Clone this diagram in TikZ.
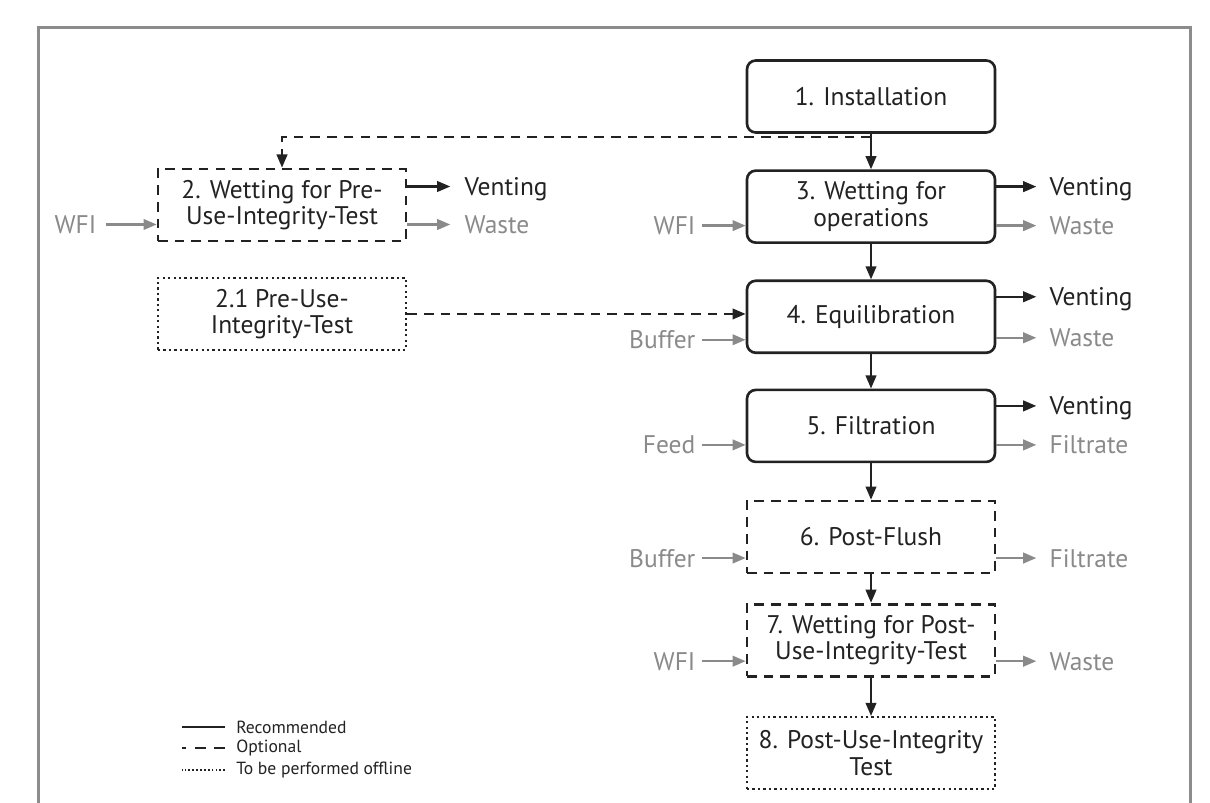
\documentclass[tikz,border=0pt]{standalone}
\usepackage{fontspec}
\setmainfont{PT Sans}
\usetikzlibrary{arrows.meta, positioning}
\definecolor{ink}{HTML}{222222}
\definecolor{lgray}{HTML}{8A8A8A}
\definecolor{framegray}{HTML}{8C8C8C}
\newcommand{\stagefont}{\fontsize{14.5pt}{15pt}\selectfont}
\newcommand{\legendfont}{\fontsize{10pt}{11pt}\selectfont}
\tikzset{
    stage/.style={
        rectangle,
        draw=ink,
        line width=1.5pt,
        rounded corners=5pt,
        minimum width=4.96cm,
        minimum height=1.44cm,
        align=center,
        text=ink,
        font=\stagefont
    },
    optstage/.style={
        stage,
        rounded corners=0pt,
        dash pattern=on 5.5pt off 4pt
    },
    offstage/.style={
        stage,
        rounded corners=0pt,
        line width=1.3pt,
        dash pattern=on 1.3pt off 1.8pt
    },
    outlbl/.style={
        inner sep=0pt,
        text height=10.2pt,
        text depth=0pt,
        text=ink,
        font=\stagefont
    },
    graylbl/.style={
        outlbl,
        text=lgray
    },
    flow/.style={
        draw=ink,
        line width=1.3pt,
        -{Triangle[length=7.5pt, width=6pt]}
    },
    grayflow/.style={
        flow,
        draw=lgray
    },
    optflow/.style={
        flow,
        dash pattern=on 5.5pt off 4pt
    },
    legendline/.style={
        draw=ink,
        line width=1pt
    },
    legendtxt/.style={
        inner sep=0pt,
        text=ink,
        font=\legendfont
    }
}

\begin{document}
\begin{tikzpicture}
\useasboundingbox (0,0) rectangle (24.2,-16.06);

% frame
\draw[framegray, line width=0.06cm] (0.76,-16.06) |- (23.8,-0.55) -- (23.8,-16.06);

% main column
\node[stage] (s1) at (17.42,-1.93) {1. Installation};
\node[stage, below=0.71cm of s1] (s3) {3. Wetting for\\operations};
\node[stage, below=0.71cm of s3] (s4) {4. Equilibration};
\node[stage, below=0.69cm of s4] (s5) {5. Filtration};
\node[optstage, below=0.73cm of s5] (s6) {6. Post-Flush};
\node[optstage, below=0.57cm of s6] (s7) {7. Wetting for Post-\\Use-Integrity-Test};
\node[offstage, below=0.77cm of s7] (s8) {8. Post-Use-Integrity\\Test};

\draw[flow] (s1) -- (s3);
\draw[flow] (s3) -- (s4);
\draw[flow] (s4) -- (s5);
\draw[flow] (s5) -- (s6);
\draw[flow] (s6) -- (s7);
\draw[flow] (s7) -- (s8);

% pre-use branch
\node[optstage] (s2) at (5.64,-4.10) {2. Wetting for Pre-\\Use-Integrity-Test};
\node[offstage, below=0.69cm of s2] (s21) {2.1 Pre-Use-\\Integrity-Test};

\coordinate (split) at ([yshift=-0.06cm]s1.south);
\draw[optflow] (split) -| (s2.north);
\draw[optflow] (s21.east) -- (s21.east -| s4.west);

% outputs on the right
\node[outlbl, anchor=west] (v2) at ([xshift=1.14cm, yshift=0.37cm]s2.east) {Venting};
\node[graylbl, anchor=west] (w2) at ([xshift=1.14cm, yshift=-0.39cm]s2.east) {Waste};
\node[outlbl, anchor=west] (v3) at ([xshift=1.06cm, yshift=0.40cm]s3.east) {Venting};
\node[graylbl, anchor=west] (w3) at ([xshift=1.06cm, yshift=-0.38cm]s3.east) {Waste};
\node[outlbl, anchor=west] (v4) at ([xshift=1.06cm, yshift=0.40cm]s4.east) {Venting};
\node[graylbl, anchor=west] (w4) at ([xshift=1.06cm, yshift=-0.42cm]s4.east) {Waste};
\node[outlbl, anchor=west] (v5) at ([xshift=1.06cm, yshift=0.40cm]s5.east) {Venting};
\node[graylbl, anchor=west] (f5) at ([xshift=1.06cm, yshift=-0.38cm]s5.east) {Filtrate};
\node[graylbl, anchor=west] (f6) at ([xshift=1.06cm, yshift=-0.42cm]s6.east) {Filtrate};
\node[graylbl, anchor=west] (w7) at ([xshift=1.06cm, yshift=-0.42cm]s7.east) {Waste};

\draw[flow, shorten >=0.28cm] (s2.east |- v2) -- (v2.west);
\draw[grayflow, shorten >=0.28cm] (s2.east |- w2) -- (w2.west);
\draw[flow, shorten >=0.26cm] (s3.east |- v3) -- (v3.west);
\draw[grayflow, shorten >=0.26cm] (s3.east |- w3) -- (w3.west);
\draw[flow, shorten >=0.26cm] (s4.east |- v4) -- (v4.west);
\draw[grayflow, shorten >=0.26cm] (s4.east |- w4) -- (w4.west);
\draw[flow, shorten >=0.26cm] (s5.east |- v5) -- (v5.west);
\draw[grayflow, shorten >=0.26cm] (s5.east |- f5) -- (f5.west);
\draw[grayflow, shorten >=0.26cm] (s6.east |- f6) -- (f6.west);
\draw[grayflow, shorten >=0.26cm] (s7.east |- w7) -- (w7.west);

% inputs on the left
\node[graylbl, anchor=east] (i2) at ([xshift=-1.2cm, yshift=-0.39cm]s2.west) {WFI};
\node[graylbl, anchor=east] (i3) at ([xshift=-1.0cm, yshift=-0.38cm]s3.west) {WFI};
\node[graylbl, anchor=east] (i4) at ([xshift=-1.0cm, yshift=-0.46cm]s4.west) {Buffer};
\node[graylbl, anchor=east] (i5) at ([xshift=-1.0cm, yshift=-0.38cm]s5.west) {Feed};
\node[graylbl, anchor=east] (i6) at ([xshift=-1.0cm, yshift=-0.42cm]s6.west) {Buffer};
\node[graylbl, anchor=east] (i7) at ([xshift=-1.0cm, yshift=-0.42cm]s7.west) {WFI};

\draw[grayflow, shorten <=0.18cm] (i2.east) -- (s2.west |- i2);
\draw[grayflow, shorten <=0.12cm] (i3.east) -- (s3.west |- i3);
\draw[grayflow, shorten <=0.12cm] (i4.east) -- (s4.west |- i4);
\draw[grayflow, shorten <=0.12cm] (i5.east) -- (s5.west |- i5);
\draw[grayflow, shorten <=0.12cm] (i6.east) -- (s6.west |- i6);
\draw[grayflow, shorten <=0.12cm] (i7.east) -- (s7.west |- i7);

% legend
\node[legendtxt, anchor=west] (lrec) at (4.72,-14.54) {Recommended};
\node[legendtxt, anchor=west] (lopt) at (4.72,-14.96) {Optional};
\node[legendtxt, anchor=west] (loff) at (4.72,-15.40) {To be performed offline};
\draw[legendline] ([xshift=-0.22cm]lrec.west) -- ++(-0.86cm,0);
\draw[legendline, dash pattern=on 6pt off 5pt] ([xshift=-0.22cm]lopt.west) -- ++(-0.86cm,0);
\draw[legendline, dash pattern=on 1pt off 1.2pt] ([xshift=-0.22cm]loff.west) -- ++(-0.86cm,0);

\end{tikzpicture}
\end{document}
